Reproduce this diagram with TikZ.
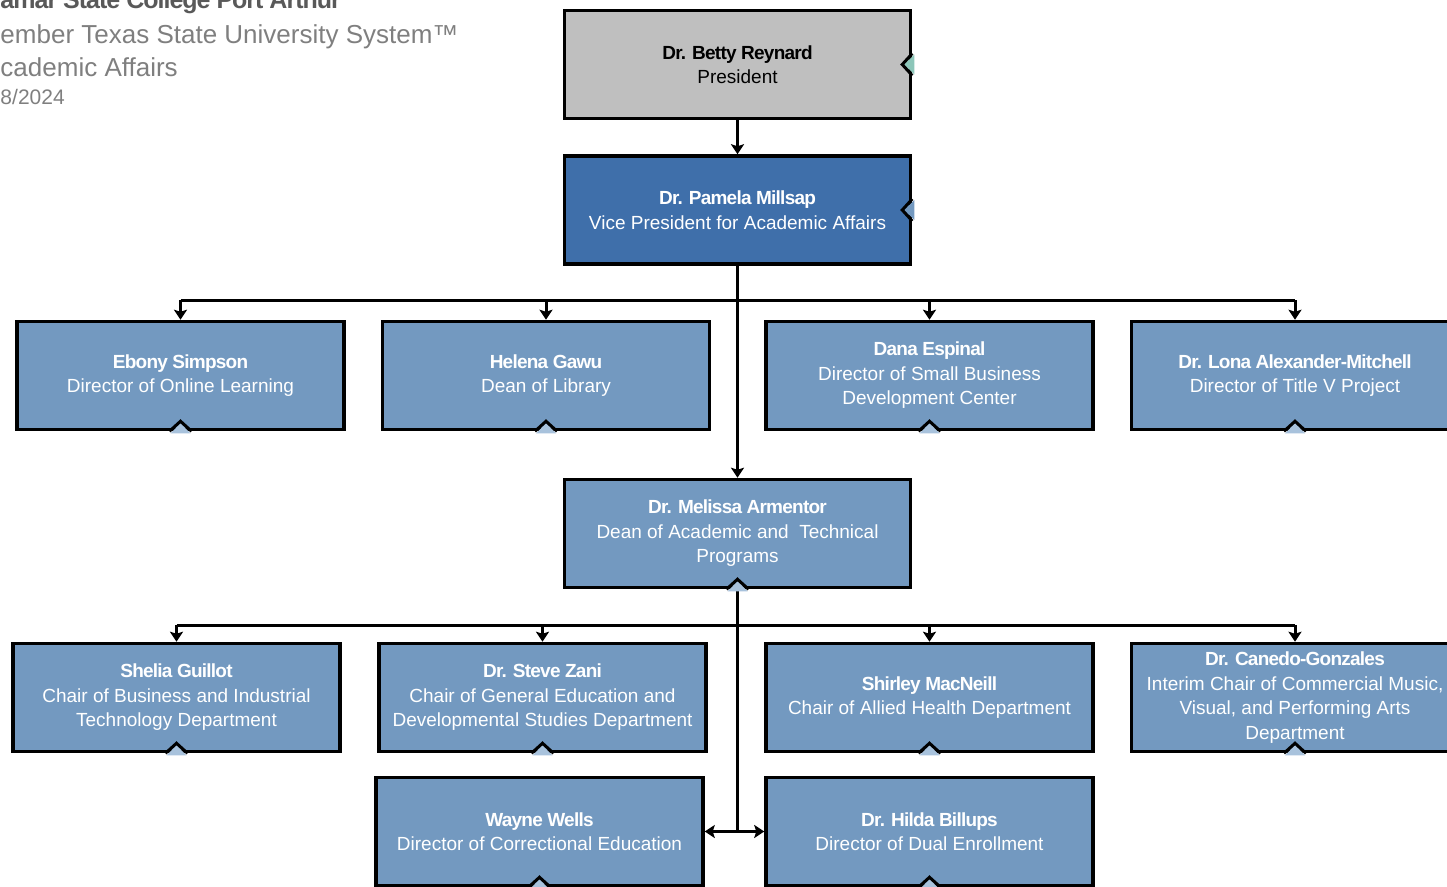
\documentclass[tikz,border=0pt]{standalone}
\usepackage{fontspec}
\setmainfont{Liberation Sans}
\newfontfamily\namefont[LetterSpace=-4]{Liberation Sans}
\usetikzlibrary{positioning,arrows.meta}

\definecolor{presgray}{HTML}{BFBFBF}
\definecolor{vpblue}{HTML}{3F6FAA}
\definecolor{staffblue}{HTML}{7399C0}
\definecolor{notchblue}{HTML}{A8C2DC}
\definecolor{notchteal}{HTML}{8CC6B9}
\definecolor{titlegray}{HTML}{7F7F7F}
\definecolor{headgray}{HTML}{595959}

% name in bold, then the post
\newcommand{\who}[2]{{\namefont\bfseries #1}\\#2}

% dent in the bottom border of a box
\newcommand{\downnotch}[1]{%
  \begin{scope}[shift={(#1.south)}]
    \fill[notchblue] (-10,2) -- (0,-8) -- (10,2) -- cycle;
    \draw[line width=3pt] (-11,0) -- (0,-10) -- (11,0);
  \end{scope}}

% dent in the right border of a box
\newcommand{\sidenotch}[2]{%
  \begin{scope}[shift={(#1.east)}]
    \fill[#2] (2,-10) -- (-8,0) -- (2,10) -- cycle;
    \draw[line width=3pt] (0,-11) -- (-10,0) -- (0,11);
  \end{scope}}

\begin{document}
\begin{tikzpicture}[x=1pt, y=-1pt, node distance=34pt, line width=3pt,
    >={Stealth[width=13pt,length=10pt,inset=2pt]}]

    % Define styles
    \tikzstyle{box} = [draw, rectangle, line width=3.5pt, fill=staffblue, text=white,
        minimum width=327pt, minimum height=108pt, align=center,
        font=\fontsize{19}{24.5}\selectfont]
    \tikzstyle{bigbox} = [box, minimum width=346pt]
    \tikzstyle{title} = [anchor=base west, inner sep=0pt, text=titlegray,
        font=\fontsize{26}{30}\selectfont]

    \useasboundingbox (0,0) rectangle (1447,886);
    \clip (0,0) rectangle (1447,886);

    % HEADING
    \node (college) [title, text=headgray, font=\fontsize{25}{30}\namefont\bfseries] at (-1,9) {amar State College Port Arthur};
    \node (system) [title] at (-1,43) {ember Texas State University System™};
    \node (office) [title] at (-1,76) {cademic Affairs};
    \node (date) [title, font=\fontsize{21}{24}\selectfont] at (-1,104) {8/2024};

    % TOP
    \node (pres) [bigbox, fill=presgray, text=black] at (737.5,64.5) {\who{Dr. Betty Reynard}{President}};
    \node (vp) [bigbox, fill=vpblue, below=of pres] {\who{Dr. Pamela Millsap}{Vice President for Academic Affairs}};

    % REPORTS TO VP
    \node (ebony) [box] at (180.5,375.5) {\who{Ebony Simpson}{Director of Online Learning}};
    \node (helena) [box] at (546,375.5) {\who{Helena Gawu}{Dean of Library}};
    \node (dana) [box] at (929.5,375.5) {\who{Dana Espinal}{Director of Small Business\\Development Center}};
    \node (lona) [box] at (1295,375.5) {\who{Dr. Lona Alexander-Mitchell}{Director of Title V Project}};

    \node (dean) [bigbox] at (737.5,533.5) {\who{Dr. Melissa Armentor}{Dean of Academic and~~Technical\\Programs}};

    % REPORTS TO DEAN
    \node (shelia) [box] at (176.5,697.5) {\who{Shelia Guillot}{Chair of Business and Industrial\\Technology Department}};
    \node (zani) [box] at (542.5,697.5) {\who{Dr. Steve Zani}{Chair of General Education and\\Developmental Studies Department}};
    \node (macneill) [box] at (929.5,697.5) {\who{Shirley MacNeill}{Chair of Allied Health Department}};
    \node (canedo) [box] at (1295,697.5) {\who{Dr. Canedo-Gonzales}{Interim Chair of Commercial Music,\\Visual, and Performing Arts\\Department}};

    \node (wayne) [box] at (539.5,831.5) {\who{Wayne Wells}{Director of Correctional Education}};
    \node (hilda) [box] at (929.5,831.5) {\who{Dr. Hilda Billups}{Director of Dual Enrollment}};

    % CONNECTIONS
    \coordinate (bus1) at (737.5,300);
    \coordinate (bus2) at (737.5,625);

    \draw[->] (pres) -- (vp);
    \draw[->] (vp.south) -- (dean.north);
    \draw (bus1 -| ebony.north) -- (bus1 -| lona.north);
    \foreach \n in {ebony,helena,dana,lona}
        \draw[->] (bus1 -| \n.north) -- (\n.north);

    \draw (dean.south) -- (dean.south |- wayne.east);
    \draw (bus2 -| shelia.north) -- (bus2 -| canedo.north);
    \foreach \n in {shelia,zani,macneill,canedo}
        \draw[->] (bus2 -| \n.north) -- (\n.north);
    \draw[<->] (wayne.east) -- (hilda.west);

    % Collapse marks
    \foreach \n in {ebony,helena,dana,lona,dean,shelia,zani,macneill,canedo,wayne,hilda}
        \downnotch{\n};
    \sidenotch{pres}{notchteal};
    \sidenotch{vp}{staffblue};

\end{tikzpicture}
\end{document}
